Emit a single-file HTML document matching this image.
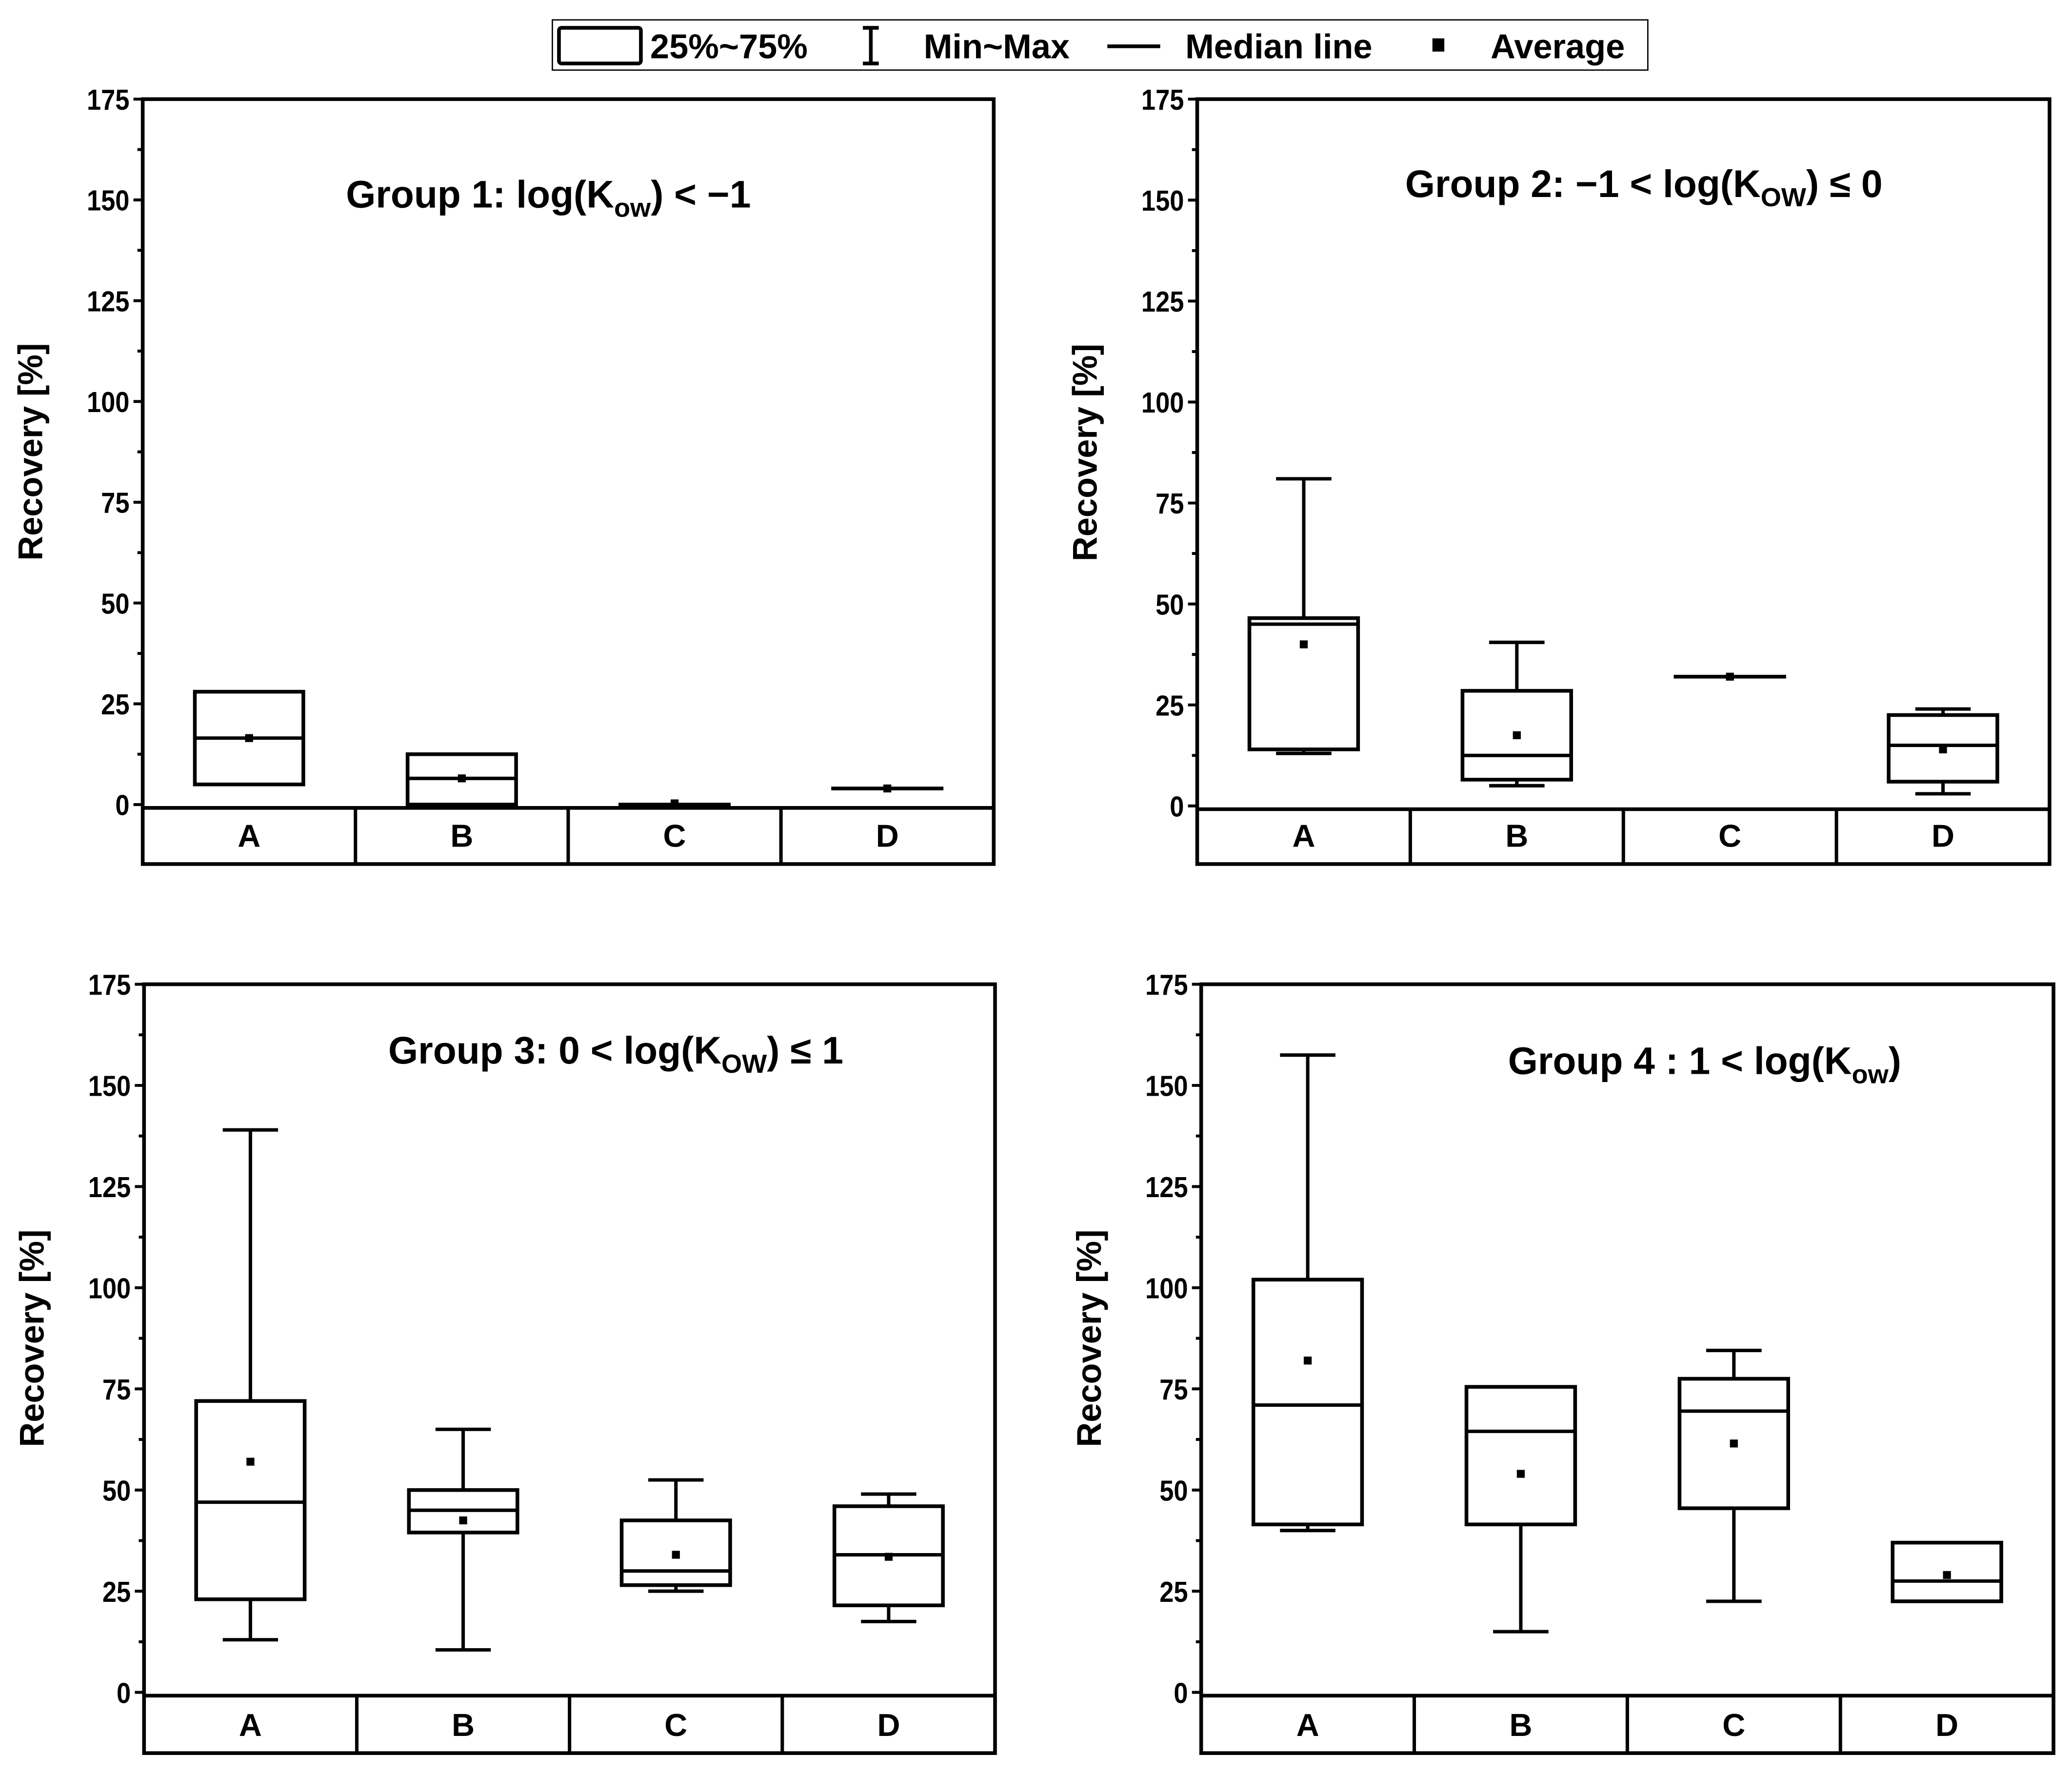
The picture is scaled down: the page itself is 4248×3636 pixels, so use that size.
<!DOCTYPE html>
<html><head><meta charset="utf-8"><style>
html,body{margin:0;padding:0;background:#fff;}
svg{display:block;font-family:"Liberation Sans",sans-serif;font-weight:bold;}
</style></head><body>
<svg id="chart" width="4248" height="3636" viewBox="0 0 1568 1342" xmlns="http://www.w3.org/2000/svg">
<g>
<rect x="418" y="15" width="829" height="38" fill="#fff" stroke="#000" stroke-width="1"/>
<rect x="423" y="21" width="62" height="27" fill="#fff" stroke="#000" stroke-width="2.8" rx="2"/>
<text x="492" y="44" font-size="26">25%~75%</text>
<path d="M659 21 V48 M653 21 H665 M653 48 H665" stroke="#000" stroke-width="2.8" fill="none"/>
<text x="699" y="44" font-size="26">Min~Max</text>
<line x1="838" y1="35" x2="878" y2="35" stroke="#000" stroke-width="2.8"/>
<text x="897" y="44" font-size="26">Median line</text>
<rect x="1084" y="29" width="9" height="10" fill="#000"/>
<text x="1128" y="44" font-size="26">Average</text>
</g>
</svg>
<script>
const categories = ["A","B","C","D"];
const yTicks = [0,25,50,75,100,125,150,175];
const g1q1 = [5,0,0,4], g1q3 = [28,12.5,0,4], g1med = [16.5,6.5,0,4], g1min = [5,0,0,4], g1max = [28,12.5,0,4], g1mean = [16.5,6.5,0.3,4];
const g2q1 = [14,6.5,32,6], g2q3 = [46.5,28.5,32,22.5], g2med = [45,12.5,32,15], g2min = [13,5,32,3], g2max = [81,40.5,32,24], g2mean = [40,17.5,32,14];
const g3q1 = [23,39.5,26.5,21.5], g3q3 = [72,50,42.5,46], g3med = [47,45,30,34], g3min = [13,10.5,25,17.5], g3max = [139,65,52.5,49], g3mean = [57,42.5,34,33.5];
const g4q1 = [41.5,41.5,45.5,22.5], g4q3 = [102,75.5,77.5,37], g4med = [71,64.5,69.5,27.5], g4min = [40,15,22.5,22.5], g4max = [157.5,75.5,84.5,37], g4mean = [82,54,61.5,29];

const NS = "http://www.w3.org/2000/svg";
const svg = document.getElementById("chart");
function mk(tag, attrs, parent){const e=document.createElementNS(NS,tag);for(const k in attrs)e.setAttribute(k,attrs[k]);(parent||svg).appendChild(e);return e;}

const panels = [
 {x0:108,x1:752,top:75,zero:609,bot:654,title:["Group 1: log(K","ow",") < \u22121"],tx:415,ty:157,d:[g1q1,g1q3,g1med,g1min,g1max,g1mean]},
 {x0:906,x1:1551,top:75,zero:610,bot:654,title:["Group 2: \u22121 < log(K","OW",") \u2264 0"],tx:1244,ty:149,d:[g2q1,g2q3,g2med,g2min,g2max,g2mean]},
 {x0:109,x1:753,top:745,zero:1281,bot:1327,title:["Group 3: 0 < log(K","OW",") \u2264 1"],tx:466,ty:805,d:[g3q1,g3q3,g3med,g3min,g3max,g3mean]},
 {x0:909,x1:1554,top:745,zero:1281,bot:1327,title:["Group 4 : 1 < log(K","ow",")"],tx:1290,ty:813,d:[g4q1,g4q3,g4med,g4min,g4max,g4mean]}
];

panels.forEach((p,pi)=>{
  const g = mk("g",{});
  
  
  const y = v => p.zero - v*(p.zero-p.top)/175;
  const cw = (p.x1-p.x0)/4;
  const xc = i => p.x0 + (i+0.5)*cw;
  const hw = cw*0.255, cap = cw*0.13;
  const fr = mk("rect",{x:p.x0,y:p.top,width:p.x1-p.x0,height:p.bot-p.top,fill:"none",stroke:"#000","stroke-width":2.8},g);
  
  
  mk("line",{x1:p.x0,x2:p.x1,y1:p.zero+2.5,y2:p.zero+2.5,stroke:"#000","stroke-width":2.8},g);
  for(let i=1;i<4;i++) mk("line",{x1:p.x0+i*cw,x2:p.x0+i*cw,y1:p.zero+2.5,y2:p.bot,stroke:"#000","stroke-width":2.6},g);
  categories.forEach((c,i)=>{
    const t = mk("text",{x:xc(i),y:p.bot-13,"font-size":24,"text-anchor":"middle"},g);
    t.textContent=c;
    
    
  });
  yTicks.forEach(v=>{
    mk("line",{x1:p.x0-7,x2:p.x0,y1:y(v),y2:y(v),stroke:"#000","stroke-width":2.2},g);
    if(v<175) mk("line",{x1:p.x0-4,x2:p.x0,y1:y(v+12.5),y2:y(v+12.5),stroke:"#000","stroke-width":2.2},g);
    const t = mk("text",{x:p.x0-10,y:y(v)+8,"font-size":22,"text-anchor":"end",transform:`translate(${(p.x0-10)*0.12},0) scale(0.88,1)`},g);
    t.textContent=v;
    
    
  });
  const yt = mk("text",{x:0,y:0,"font-size":26,"text-anchor":"middle",transform:`translate(${p.x0-76},${(p.top+p.zero)/2}) rotate(-90)`},g);
  yt.textContent="Recovery [%]";
  
  
  const tt = mk("text",{x:p.tx,y:p.ty,"font-size":29,"text-anchor":"middle"},g);
  
  
  const s1=mk("tspan",{},tt); s1.textContent=p.title[0];
  const s2=mk("tspan",{"font-size":20,dy:7},tt); s2.textContent=p.title[1];
  const s3=mk("tspan",{dy:-7},tt); s3.textContent=p.title[2];
  const [q1,q3,med,mn,mx,mean]=p.d;
  categories.forEach((c,i)=>{
    const b = mk("g",{},g);
    
    
    const x=xc(i);
    mk("line",{x1:x,x2:x,y1:y(mx[i]),y2:y(q3[i]),stroke:"#000","stroke-width":2.6},b);
    mk("line",{x1:x,x2:x,y1:y(q1[i]),y2:y(mn[i]),stroke:"#000","stroke-width":2.6},b);
    if(mx[i]!==q3[i]) mk("line",{x1:x-cap,x2:x+cap,y1:y(mx[i]),y2:y(mx[i]),stroke:"#000","stroke-width":2.6},b);
    if(mn[i]!==q1[i]) mk("line",{x1:x-cap,x2:x+cap,y1:y(mn[i]),y2:y(mn[i]),stroke:"#000","stroke-width":2.6},b);
    mk("rect",{x:x-hw,y:y(q3[i]),width:2*hw,height:Math.max(0.01,y(q1[i])-y(q3[i])),fill:"none",stroke:"#000","stroke-width":2.8},b);
    mk("line",{x1:x-hw,x2:x+hw,y1:y(med[i]),y2:y(med[i]),stroke:"#000","stroke-width":2.6},b);
    mk("rect",{x:x-3,y:y(mean[i])-3,width:6,height:6,fill:"#000"},b);
  });
});
</script>
</body></html>
